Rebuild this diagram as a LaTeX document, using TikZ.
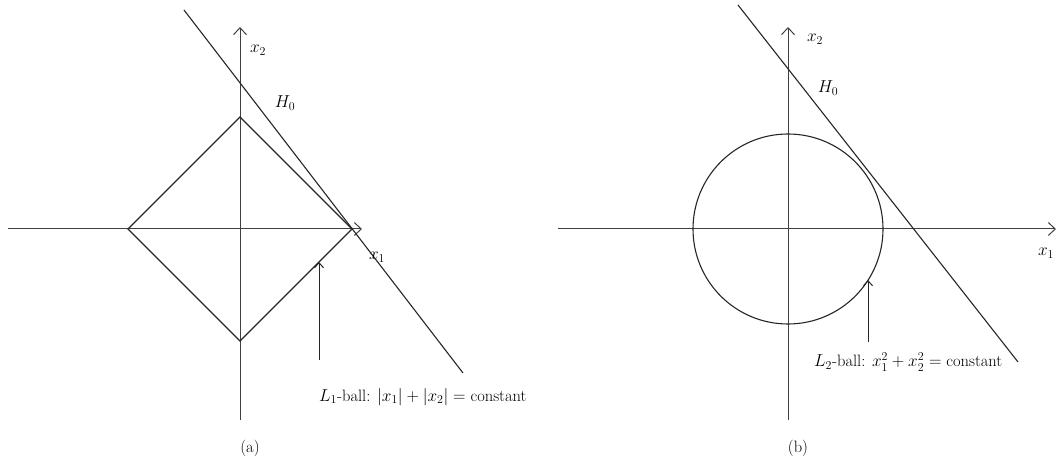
\documentclass[tikz,border=0pt]{standalone}
\usetikzlibrary{arrows.meta}
\begin{document}
\begin{tikzpicture}[x=1pt,y=-1pt,
  axis/.style={draw=black!75,line width=1pt,-{Straight Barb[length=7pt,width=13pt,line width=1pt]}},
  curve/.style={draw=black!85,line width=1.1pt},
  pointer/.style={draw=black!85,line width=1pt,-{Straight Barb[length=5pt,width=9pt,line width=1pt]}},
  lbl/.style={font=\fontsize{16.5}{19}\selectfont,inner sep=0pt}]
\useasboundingbox (0,0) rectangle (1057,462);
% ---------- panel (a)
\coordinate (axL) at (8,229);
\coordinate (axR) at (362,229);
\coordinate (ayB) at (240,420);
\coordinate (ayT) at (240,27);
\draw[axis] (axL) -- (axR);
\draw[axis] (ayB) -- (ayT);
\coordinate (dL) at (128,229);
\coordinate (dR) at (352,229);
\coordinate (dT) at (240,117);
\coordinate (dB) at (240,341);
\draw[curve] (dL) -- (dT) -- (dR) -- (dB) -- cycle;
\coordinate (hA1) at (184,10);
\coordinate (hA2) at (463,373);
\draw[curve] (hA1) -- (hA2);
\coordinate (pA0) at (319,360);
\coordinate (pA1) at (319,262);
\draw[pointer] (pA0) -- (pA1);
\node[lbl] (x2a) at (258,50) {$x_2$};
\node[lbl] (H0a) at (285,103) {$H_0$};
\node[lbl] (x1a) at (377,257) {$x_1$};
\node[lbl,anchor=west] (La) at (319,397) {$L_1$-ball: $|x_1| + |x_2| =$ constant};
\node[lbl] (capa) at (250,448) {(a)};
% ---------- panel (b)
\coordinate (bxL) at (558,229);
\coordinate (bxR) at (1056,229);
\coordinate (byB) at (788,420);
\coordinate (byT) at (788,27);
\draw[axis] (bxL) -- (bxR);
\draw[axis] (byB) -- (byT);
\coordinate (cO) at (788,229);
\draw[curve] (cO) circle[radius=95];
\coordinate (hB1) at (738,5);
\coordinate (hB2) at (1018,362);
\draw[curve] (hB1) -- (hB2);
\coordinate (pB0) at (868,342);
\coordinate (pB1) at (868,280);
\draw[pointer] (pB0) -- (pB1);
\node[lbl] (x2b) at (815,39) {$x_2$};
\node[lbl] (H0b) at (828,88) {$H_0$};
\node[lbl] (x1b) at (1046,253) {$x_1$};
\node[lbl,anchor=west] (Lb) at (814,362) {$L_2$-ball: $x_1^2 + x_2^2 =$ constant};
\node[lbl] (capb) at (798,448) {(b)};
\end{tikzpicture}
\end{document}
